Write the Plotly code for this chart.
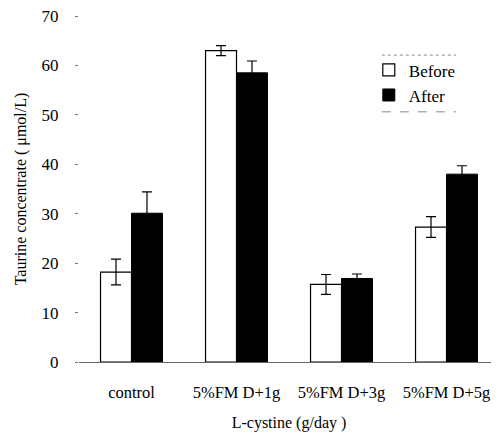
import plotly.graph_objects as go

categories = ["control", "5%FMD+1g", "5%FMD+3g", "5%FMD+5g"]
tick_labels = ["control", "5%FM D+1g", "5%FM D+3g", "5%FM D+5g"]
before = [18.2, 63.0, 15.7, 27.3]
before_err = [2.6, 1.0, 2.0, 2.1]
after = [30.1, 58.5, 16.9, 38.0]
after_err = [4.3, 2.4, 0.9, 1.7]
y_ticks = [0, 10, 20, 30, 40, 50, 60, 70]

FONT = "Liberation Serif, Times New Roman, serif"

fig = go.Figure()
fig.add_trace(go.Bar(
    x=categories, y=before, name="Before", legendgroup="a",
    marker=dict(color="white", line=dict(color="black", width=1.2)),
    error_y=dict(type="data", array=before_err, color="black", thickness=1.2, width=5),
))
fig.add_trace(go.Bar(
    x=categories, y=after, name="After", legendgroup="b",
    marker=dict(color="black", line=dict(color="black", width=1)),
    error_y=dict(type="data", array=after_err, color="black", thickness=1.2, width=5),
))

# page body adds an 8px offset; figure sized so it fits the 499x433 window
fig.update_layout(
    width=491, height=425,
    margin=dict(l=71, r=0, t=8, b=71, autoexpand=False),
    paper_bgcolor="white", plot_bgcolor="white",
    font=dict(family=FONT, size=17, color="black"),
    barmode="group", bargap=0.41, bargroupgap=0,
    showlegend=True,
    legend=dict(x=0.69, y=0.895, xanchor="left", yanchor="top",
                bgcolor="rgba(0,0,0,0)", font=dict(size=17, family=FONT),
                tracegroupgap=9, traceorder="normal"),
    xaxis=dict(
        tickmode="array", tickvals=categories, ticktext=tick_labels,
        tickfont=dict(size=16.5),
        showline=True, linecolor="#666", linewidth=1, ticks="",
        showgrid=False, zeroline=False,
        ticklabelstandoff=15,
        title=dict(text="L-cystine (g/day )", font=dict(size=16, family=FONT), standoff=16),
    ),
    yaxis=dict(
        range=[0, 70], tickvals=y_ticks, showgrid=False, zeroline=False,
        showline=False, ticks="outside", ticklen=3, tickcolor="#777", tickwidth=1,
        ticklabelstandoff=13, ticklabeloverflow="allow",
        title=dict(text="Taurine concentrate ( μmol/L)", font=dict(size=16, family=FONT), standoff=10),
    ),
    shapes=[
        dict(type="line", xref="paper", yref="paper", x0=0.721, x1=0.898, y0=0.887, y1=0.887,
             line=dict(color="#888", width=1, dash="dot")),
        dict(type="line", xref="paper", yref="paper", x0=0.721, x1=0.898, y0=0.723, y1=0.723,
             line=dict(color="#888", width=1, dash="dash")),
    ],
)

fig.write_html("out.html")
